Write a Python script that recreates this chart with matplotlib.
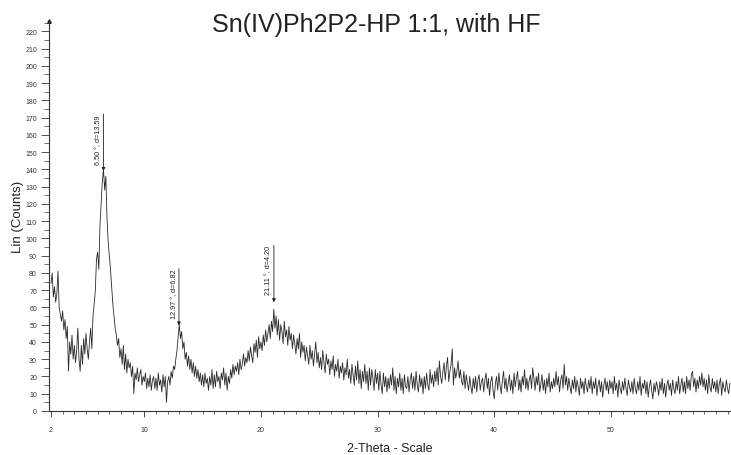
import numpy as np
import matplotlib
matplotlib.use("Agg")
import matplotlib.pyplot as plt
from matplotlib.ticker import MultipleLocator, FixedLocator

plt.rcParams['font.family'] = ['Liberation Sans', 'DejaVu Sans']

# 2-theta grid, 0.1 deg steps from 2.0
two_theta_start = 2.0
two_theta_step = 0.1

# counts, one row per degree (2.0 ... 60.2)
counts = [
    74, 80, 66, 72, 63, 68, 81, 60, 56, 52,        # 2
    58, 47, 53, 42, 49, 23, 40, 33, 44, 30,        # 3
    38, 28, 35, 48, 30, 23, 38, 27, 42, 33,        # 4
    45, 36, 30, 40, 48, 36, 55, 62, 70, 88,        # 5
    92, 82, 108, 120, 133, 140, 128, 136, 112, 98, # 6
    90, 82, 72, 62, 55, 48, 44, 38, 42, 31,        # 7
    36, 27, 38, 24, 33, 22, 30, 25, 28, 20,        # 8
    26, 10, 22, 18, 25, 17, 21, 24, 15, 20,        # 9
    17, 22, 13, 19, 14, 21, 12, 18, 20, 13,        # 10
    19, 12, 22, 15, 18, 11, 21, 14, 20, 5,         # 11
    17, 20, 15, 23, 19, 26, 24, 30, 35, 43,        # 12
    50, 42, 46, 36, 40, 30, 34, 26, 32, 24,        # 13
    30, 22, 28, 20, 26, 19, 24, 17, 22, 15,        # 14
    21, 14, 22, 16, 19, 12, 20, 15, 24, 13,        # 15
    21, 14, 23, 17, 20, 13, 22, 18, 25, 15,        # 16
    22, 12, 20, 16, 24, 19, 27, 21, 26, 23,        # 17
    28, 21, 30, 24, 27, 33, 26, 31, 28, 35,        # 18
    29, 37, 32, 28, 39, 34, 41, 31, 43, 36,        # 19
    40, 35, 44, 38, 47, 40, 45, 50, 42, 52,        # 20
    46, 59, 48, 55, 44, 53, 41, 50, 46, 39,        # 21
    52, 43, 47, 38, 49, 41, 45, 36, 44, 39,        # 22
    33, 42, 36, 45, 31, 40, 34, 38, 29, 37,        # 23
    32, 27, 38, 30, 35, 26, 33, 40, 28, 34,        # 24
    25, 31, 24, 35, 28, 22, 33, 27, 30, 21,        # 25
    29, 24, 32, 20, 27, 23, 30, 19, 26, 22,        # 26
    28, 18, 25, 21, 30, 19, 24, 16, 27, 21,        # 27
    15, 26, 18, 29, 16, 24, 13, 23, 17, 27,        # 28
    16, 23, 12, 25, 15, 24, 19, 12, 24, 16,        # 29
    22, 12, 23, 15, 10, 22, 14, 20, 11, 19,        # 30
    13, 21, 15, 25, 12, 20, 10, 19, 14, 22,        # 31
    12, 19, 10, 21, 14, 13, 20, 11, 18, 22,        # 32
    13, 20, 12, 23, 15, 11, 21, 14, 19, 10,        # 33
    20, 13, 22, 15, 12, 24, 16, 21, 14, 23,        # 34
    17, 25, 15, 29, 20, 16, 23, 28, 18, 26,        # 35
    31, 17, 23, 27, 36, 15, 25, 19, 23, 29,        # 36
    19, 24, 17, 15, 23, 13, 21, 16, 12, 20,        # 37
    14, 10, 19, 13, 20, 11, 18, 21, 12, 17,        # 38
    19, 11, 18, 22, 13, 19, 9, 17, 20, 12,         # 39
    7, 16, 20, 12, 22, 15, 10, 18, 23, 13,         # 40
    19, 11, 16, 21, 12, 18, 10, 22, 14, 19,        # 41
    23, 12, 18, 11, 20, 15, 24, 13, 19, 12,        # 42
    18, 21, 13, 25, 19, 12, 20, 15, 22, 11,        # 43
    16, 21, 12, 18, 10, 19, 14, 22, 11, 17,        # 44
    13, 19, 14, 23, 15, 20, 11, 18, 21, 13,        # 45
    27, 15, 20, 12, 19, 14, 10, 18, 13, 20,        # 46
    11, 18, 14, 9, 19, 13, 17, 10, 19, 14,         # 47
    11, 18, 13, 20, 10, 17, 13, 19, 9, 15,         # 48
    18, 11, 17, 8, 15, 19, 12, 17, 10, 18,         # 49
    13, 17, 10, 20, 12, 16, 8, 18, 13, 10,         # 50
    17, 12, 19, 13, 9, 18, 14, 11, 17, 10,         # 51
    19, 13, 10, 17, 12, 20, 9, 16, 13, 18,         # 52
    10, 17, 8, 14, 18, 12, 7, 16, 11, 17,          # 53
    14, 9, 17, 12, 19, 10, 16, 8, 15, 18,          # 54
    12, 16, 9, 18, 13, 10, 17, 12, 20, 10,         # 55
    15, 19, 11, 17, 10, 20, 13, 18, 12, 21,        # 56
    23, 14, 19, 11, 18, 13, 20, 15, 22, 14,        # 57
    19, 12, 18, 10, 21, 14, 11, 19, 13, 17,        # 58
    11, 18, 10, 16, 19, 9, 17, 13, 11, 18,         # 59
    13, 10, 16,                                    # 60
]

# peak markers: position, arrow tip (counts), label
peak_pos = [6.50, 12.97, 21.11]
peak_tip = [139, 49.5, 63]
peak_labels = ["6.50 °, d=13.59", "12.97 °, d=6.82", "21.11 °, d=4.20"]

x_tick_vals = [2, 10, 20, 30, 40, 50]

two_theta = two_theta_start + two_theta_step * np.arange(len(counts))

fig = plt.figure(figsize=(7.31, 4.56), dpi=100)
ax = fig.add_axes([0.0677, 0.0965, 0.9323, 0.8555])

ax.plot(two_theta, counts, color='#2a2a2a', lw=0.6)

ax.set_xlim(1.87, 60.3)
ax.set_ylim(0, 226)

for s in ['top', 'right']:
    ax.spines[s].set_visible(False)
for s in ['left', 'bottom']:
    ax.spines[s].set_linewidth(0.8)
    ax.spines[s].set_color('#333333')

ax.xaxis.set_major_locator(FixedLocator(x_tick_vals))
ax.xaxis.set_minor_locator(MultipleLocator(1))
ax.yaxis.set_major_locator(MultipleLocator(10))
ax.yaxis.set_minor_locator(MultipleLocator(5))

ax.tick_params(axis='y', which='major', length=6, width=0.6, pad=3, labelsize=5, colors='#333333')
ax.tick_params(axis='y', which='minor', length=3.5, width=0.5, colors='#333333')
ax.tick_params(axis='x', which='major', length=4, width=0.6, pad=7, labelsize=5, colors='#333333')
ax.tick_params(axis='x', which='minor', length=2.5, width=0.5, colors='#333333')

# small arrow head on top of y axis
ax.plot(0, 1, marker='^', ms=2.5, color='#222222', transform=ax.transAxes, clip_on=False)

for pos, tip, lab in zip(peak_pos, peak_tip, peak_labels):
    top = tip + 33
    ax.annotate('', xy=(pos, tip), xytext=(pos, top),
                arrowprops=dict(arrowstyle='-|>', lw=0.6, color='#222222',
                                mutation_scale=5, shrinkA=0, shrinkB=0))
    ax.annotate(lab, xy=(pos, top), xytext=(-1, 0), textcoords='offset points',
                rotation=90, ha='right', va='top', fontsize=5.2, color='#222222')

fig.text(0.515, 1 - 25 / 456, "Sn(IV)Ph2P2-HP 1:1, with HF", fontsize=18,
         color='#222222', ha='center', va='center')
ax.set_xlabel("2-Theta - Scale", fontsize=9, color='#222222', labelpad=6)
ax.set_ylabel("Lin (Counts)", fontsize=9.5, color='#222222', labelpad=1)

fig.savefig("out.png", dpi=100)
